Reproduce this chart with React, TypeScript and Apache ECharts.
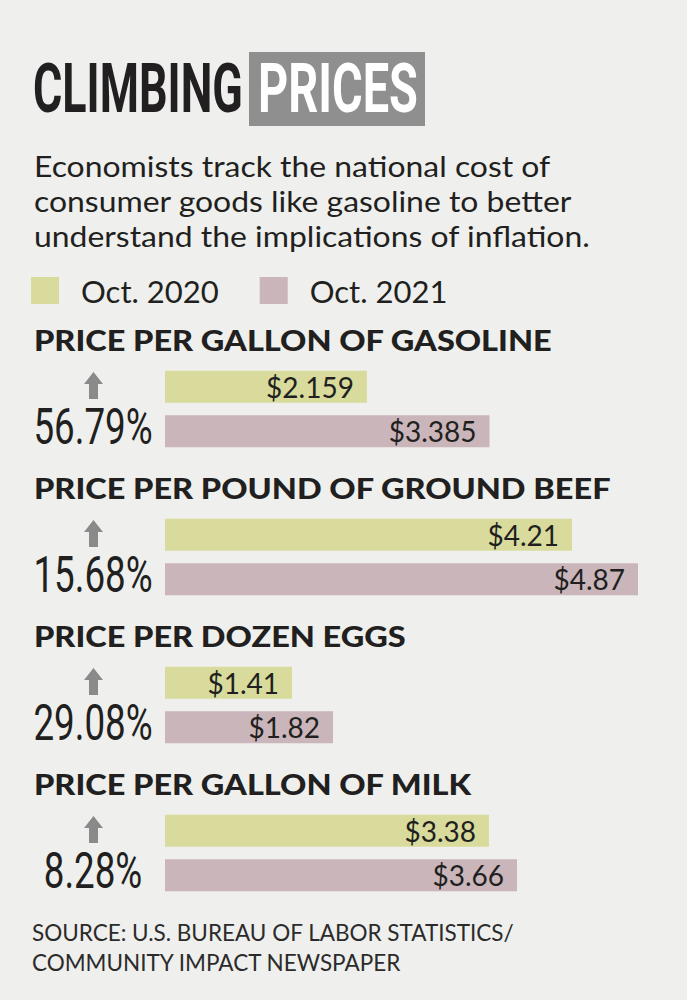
import React, { useEffect, useRef } from "react";
import * as echarts from "echarts";

const categories = ["Gasoline", "Ground beef", "Eggs", "Milk"];
const headings = [
  "PRICE PER GALLON OF GASOLINE",
  "PRICE PER POUND OF GROUND BEEF",
  "PRICE PER DOZEN EGGS",
  "PRICE PER GALLON OF MILK",
];
const seriesNames = ["Oct. 2020", "Oct. 2021"];
const oct2020 = [2.159, 4.21, 1.41, 3.38];
const oct2021 = [3.385, 4.87, 1.82, 3.66];
const changeLabels = ["56.79%", "15.68%", "29.08%", "8.28%"];
const subtitleLines = [
  "Economists track the national cost of",
  "consumer goods like gasoline to better",
  "understand the implications of inflation.",
];
const sourceLines = [
  "SOURCE: U.S. BUREAU OF LABOR STATISTICS/",
  "COMMUNITY IMPACT NEWSPAPER",
];

const COLOR_2020 = "#d8db9b";
const COLOR_2021 = "#cab5bb";
const INK = "#211f20";
const BODY_FONT = "Lato";

export default function App() {
  const ref = useRef<HTMLDivElement>(null);

  useEffect(() => {
    if (!ref.current) return;
    const chart = echarts.init(ref.current, null, { renderer: "svg" });

    const labelOpt = {
      show: true,
      position: "insideRight",
      distance: 13,
      fontFamily: BODY_FONT,
      fontSize: 28,
      color: INK,
      formatter: (p: any) => "$" + p.value,
    };

    chart.setOption({
      animation: false,
      backgroundColor: "#efefed",
      legend: {
        data: seriesNames,
        left: 31,
        top: 275,
        padding: 0,
        icon: "rect",
        itemWidth: 28,
        itemHeight: 27,
        itemGap: 41,
        textStyle: {
          fontFamily: BODY_FONT,
          fontSize: 31,
          color: INK,
          padding: [0, 0, 0, 17],
        },
      },
      grid: { left: 165, top: 335, width: 500, height: 592, containLabel: false },
      xAxis: { type: "value", min: 0.14, max: 5.14, show: false },
      yAxis: {
        type: "category",
        data: categories,
        inverse: true,
        show: false,
      },
      series: [
        {
          name: seriesNames[0],
          type: "bar",
          data: oct2020,
          barWidth: 32,
          barGap: "39%",
          itemStyle: { color: COLOR_2020 },
          label: labelOpt,
        },
        {
          name: seriesNames[1],
          type: "bar",
          data: oct2021,
          barWidth: 32,
          barGap: "39%",
          itemStyle: { color: COLOR_2021 },
          label: labelOpt,
        },
      ],
    });

    const SUB_LH = 34.8;
    const SRC_LH = 30.5;

    const graphics: any[] = [
      {
        type: "text",
        x: 33,
        y: 88,
        scaleX: 0.65,
        style: {
          text: "CLIMBING",
          fontFamily: "Roboto",
          fontWeight: 700,
          fontSize: 69,
          fill: INK,
          textAlign: "left",
          textVerticalAlign: "middle",
        },
      },
      {
        type: "rect",
        shape: { x: 249, y: 52, width: 176, height: 74 },
        style: { fill: "#8f8f8f" },
      },
      {
        type: "text",
        x: 258,
        y: 88,
        scaleX: 0.68,
        style: {
          text: "PRICES",
          fontFamily: "Roboto",
          fontWeight: 700,
          fontSize: 69,
          fill: "#ffffff",
          textAlign: "left",
          textVerticalAlign: "middle",
        },
      },
    ];

    subtitleLines.forEach((line, i) => {
      graphics.push({
        type: "text",
        x: 34,
        y: 166 + i * SUB_LH,
        scaleX: 1.12,
        style: {
          text: line,
          fontFamily: BODY_FONT,
          fontSize: 28.5,
          fill: INK,
          textAlign: "left",
          textVerticalAlign: "middle",
        },
      });
    });

    sourceLines.forEach((line, i) => {
      graphics.push({
        type: "text",
        x: 32,
        y: 932 + i * SRC_LH,
        style: {
          text: line,
          fontFamily: BODY_FONT,
          fontSize: 22.5,
          fill: "#2b2b2b",
          textAlign: "left",
          textVerticalAlign: "middle",
        },
      });
    });

    categories.forEach((cat, i) => {
      const cy = chart.convertToPixel({ yAxisIndex: 0 }, cat) as number;
      graphics.push({
        type: "text",
        x: 34,
        y: cy - 68.5,
        scaleX: 1.14,
        style: {
          text: headings[i],
          fontFamily: BODY_FONT,
          fontWeight: 900,
          fontSize: 28.5,
          fill: INK,
          textAlign: "left",
          textVerticalAlign: "middle",
        },
      });
      const top = cy - 37;
      graphics.push({
        type: "polygon",
        shape: {
          points: [
            [93.5, top],
            [103, top + 12],
            [98, top + 12],
            [98, top + 27],
            [89, top + 27],
            [89, top + 12],
            [84, top + 12],
          ],
        },
        style: { fill: "#8a8a8a" },
      });
      graphics.push({
        type: "text",
        x: 93,
        y: cy + 19,
        scaleX: 0.75,
        style: {
          text: changeLabels[i],
          fontFamily: "Roboto",
          fontWeight: 400,
          fontSize: 49,
          fill: INK,
          textAlign: "center",
          textVerticalAlign: "middle",
        },
      });
    });

    chart.setOption({ graphic: graphics });

    return () => chart.dispose();
  }, []);

  return (
    <div
      ref={ref}
      style={{ position: "absolute", left: 0, top: 0, width: 687, height: 1000 }}
    />
  );
}
